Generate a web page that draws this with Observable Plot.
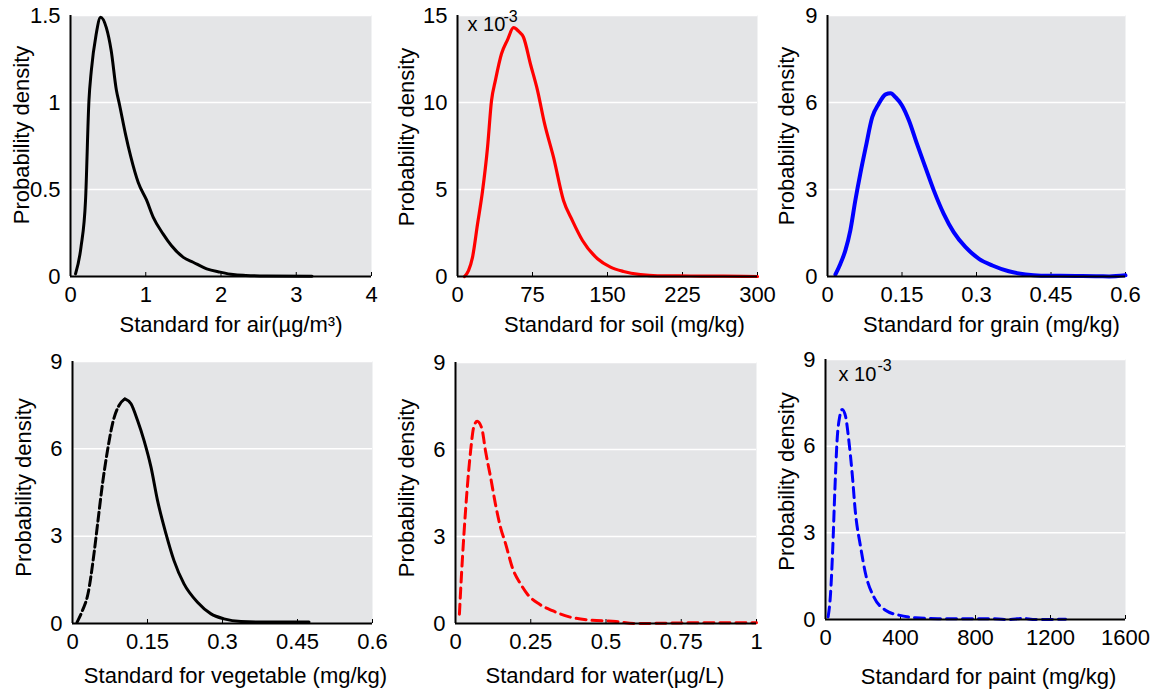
<!DOCTYPE html>
<html><head><meta charset="utf-8">
<script src="https://cdn.jsdelivr.net/npm/d3@7"></script>
<script src="https://cdn.jsdelivr.net/npm/@observablehq/plot@0.6"></script>
<style>
body{margin:0;background:#fff;}
#wrap{position:relative;width:1163px;height:693px;overflow:hidden;font-family:"Liberation Sans",Arial,sans-serif;}
.cell{position:absolute;}
.cell svg{overflow:visible;}
</style></head><body><div id="wrap"></div>
<script>
// ---- data ----
const airX = [0.067,0.14,0.2,0.245,0.276,0.34,0.40,0.476,0.54,0.61,0.65,0.73,0.80,0.90,1.01,1.10,1.23,1.34,1.50,1.63,1.81,1.99,2.16,2.33,2.6,3.21];
const airY = [0.015,0.17,0.44,1.01,1.18,1.39,1.49,1.43,1.30,1.07,0.99,0.82,0.69,0.54,0.44,0.34,0.245,0.178,0.11,0.082,0.044,0.025,0.011,0.006,0.003,0.002];

const soilX = [7,11,15,20,25,30,34,38,44,50,56,61,66,73,80,87,96,106,115,125,140,153,166,183,200,233,266,300];
const soilY = [0,0.34,1.1,3.0,4.9,7.4,10.1,11.3,12.8,13.6,14.3,14.1,13.75,12.2,10.7,8.8,6.86,4.37,3.2,2.07,1.02,0.54,0.29,0.11,0.04,0.03,0.02,0]; // x 10^-3

const grainX = [0.016,0.026,0.036,0.046,0.056,0.066,0.077,0.09,0.103,0.117,0.127,0.137,0.15,0.164,0.18,0.197,0.214,0.234,0.254,0.278,0.305,0.332,0.365,0.399,0.43,0.5,0.547,0.567,0.6];
const grainY = [0.07,0.44,0.9,1.59,2.62,3.54,4.46,5.49,5.95,6.28,6.32,6.18,5.9,5.38,4.58,3.77,2.97,2.16,1.53,1.01,0.61,0.38,0.18,0.07,0.03,0.02,0.01,0,0.04];

const vegX = [0.009,0.02,0.031,0.043,0.051,0.06,0.07,0.08,0.093,0.105,0.117,0.13,0.143,0.157,0.17,0.187,0.203,0.223,0.25,0.277,0.303,0.337,0.39,0.473];
const vegY = [0.04,0.45,1.02,2.4,3.54,4.8,5.94,6.86,7.49,7.72,7.55,6.98,6.29,5.37,4.23,3.08,2.16,1.36,0.73,0.33,0.16,0.07,0.05,0.05];

const waterX = [0.013,0.02,0.028,0.039,0.05,0.061,0.072,0.087,0.1,0.117,0.133,0.15,0.167,0.189,0.217,0.239,0.278,0.322,0.378,0.444,0.533,0.6,0.75,1.0];
const waterY = [0.32,1.7,3.07,4.67,5.93,6.79,6.97,6.74,5.93,5.02,4.1,3.3,2.73,1.92,1.35,1.01,0.67,0.44,0.23,0.12,0.07,0.0,0.02,0.03];

const paintX = [14,27,39,50,62,76,89,107,124,142,160,187,213,258,320,391,480,600,867,978,1049,1120,1280];
const paintY = [0.09,0.9,2.52,4.49,6.22,7.03,7.27,7.03,6.22,5.07,3.68,2.52,1.6,0.78,0.32,0.15,0.06,0.03,0.03,0,0.04,0,0.01]; // x 10^-3

const xTicksAir = [0,1,2,3,4];
const xTicksSoil = [0,75,150,225,300];
const xTicksGrain = [0,0.15,0.3,0.45,0.6];
const xTicksVeg = [0,0.15,0.3,0.45,0.6];
const xTicksWater = [0,0.25,0.5,0.75,1];
const xTicksPaint = [0,400,800,1200,1600];
const yTicksAir = [0,0.5,1,1.5];
const yTicksSoil = [0,5,10,15];
const yTicksNine = [0,3,6,9];

const xLabels = ["Standard for air(\u00b5g/m\u00b3)","Standard for soil (mg/kg)","Standard for grain (mg/kg)",
                 "Standard for vegetable (mg/kg)","Standard for water(\u00b5g/L)","Standard for paint (mg/kg)"];
const yLabel = "Probability density";
const multText = ["x 10", "-3"];

// ---- layout / style ----
const panels = [
  {frame:[70,15,371,276], xs:airX, ys:airY, xd:[0,4], yd:[0,1.5], xt:xTicksAir, yt:yTicksAir, color:"#000", sw:3, dash:null, lab:xLabels[0], xl:[10,55], yl:[-42,-11]},
  {frame:[457,15,757,276], xs:soilX, ys:soilY, xd:[0,300], yd:[0,15], xt:xTicksSoil, yt:yTicksSoil, color:"#ff0000", sw:3.2, dash:null, lab:xLabels[1], xl:[17,55], yl:[-44,-9], mult:[10,15,46,6]},
  {frame:[827,15,1125,276], xs:grainX, ys:grainY, xd:[0,0.6], yd:[0,9], xt:xTicksGrain, yt:yTicksNine, color:"#0000ff", sw:4, dash:null, lab:xLabels[2], xl:[15,55], yl:[-34,-10]},
  {frame:[72,361,372,623], xs:vegX, ys:vegY, xd:[0,0.6], yd:[0,9], xt:xTicksVeg, yt:yTicksNine, color:"#000", sw:3, dash:"split", lab:xLabels[3], xl:[13,59], yl:[-42,-5]},
  {frame:[455,362,756,623], xs:waterX, ys:waterY, xd:[0,1], yd:[0,9], xt:xTicksWater, yt:yTicksNine, color:"#ff0000", sw:3, dash:"10,6", lab:xLabels[4], xl:[-1,59], yl:[-42,-5]},
  {frame:[825,359,1125,619], xs:paintX, ys:paintY, xd:[0,1600], yd:[0,9], xt:xTicksPaint, yt:yTicksNine, color:"#0000ff", sw:3, dash:"10,6", lab:xLabels[5], xl:[13,64], yl:[-32,-8], mult:[13,21,52,11]}
];

const wrap = document.getElementById("wrap");
const mL = 70, mT = 15, mR = 40, mB = 80;

for (const p of panels) {
  const [fl, ft, fr, fb] = p.frame;
  const fw = fr - fl, fh = fb - ft;
  const data = p.xs.map((x, i) => ({x, y: p.ys[i]}));
  const lines = [];
  if (p.dash === "split") {
    let ip = 0;
    p.ys.forEach((v, i) => { if (v > p.ys[ip]) ip = i; });
    lines.push(Plot.line(data.slice(0, ip + 1), {x: "x", y: "y", stroke: p.color, strokeWidth: p.sw, strokeDasharray: "9,4", curve: "monotone-x"}));
    lines.push(Plot.line(data.slice(ip), {x: "x", y: "y", stroke: p.color, strokeWidth: p.sw, curve: "monotone-x"}));
  } else {
    lines.push(Plot.line(data, {x: "x", y: "y", stroke: p.color, strokeWidth: p.sw, strokeDasharray: p.dash, curve: "monotone-x"}));
  }
  const marks = [
    Plot.frame({fill: "#e4e5e7", stroke: "none"}),
    Plot.ruleY(p.yt.filter(d => d > 0), {y: d => d, stroke: "white", strokeWidth: 1.5}),
    Plot.tickX(p.xt.filter(d => d > p.xd[0]), {x: d => d, stroke: "black", strokeWidth: 1, insetTop: fh - 4}),
    ...lines,
    Plot.ruleX([p.xd[0]], {stroke: "black", strokeWidth: 2}),
    Plot.ruleY([0], {stroke: "black", strokeWidth: 2}),
    Plot.text([p.lab], {text: d => d, frameAnchor: "bottom", dx: p.xl[0], dy: p.xl[1], lineAnchor: "bottom", textAnchor: "middle", fontSize: 22, fill: "black"}),
    Plot.text([yLabel], {text: d => d, frameAnchor: "left", rotate: -90, dx: p.yl[0], dy: p.yl[1], lineAnchor: "bottom", textAnchor: "middle", fontSize: 22, fill: "black"})
  ];
  if (p.mult) {
    marks.push(Plot.text([multText[0]], {text: d => d, frameAnchor: "top-left", dx: p.mult[0], dy: p.mult[1], lineAnchor: "bottom", textAnchor: "start", fontSize: 20, fill: "black"}));
    marks.push(Plot.text([multText[1]], {text: d => d, frameAnchor: "top-left", dx: p.mult[2], dy: p.mult[3], lineAnchor: "bottom", textAnchor: "start", fontSize: 16, fill: "black"}));
  }
  const chart = Plot.plot({
    width: fw + mL + mR,
    height: fh + mT + mB,
    marginLeft: mL, marginTop: mT, marginRight: mR, marginBottom: mB,
    style: {background: "none", fontSize: "22px", fontFamily: "Liberation Sans, Arial, sans-serif", color: "black", overflow: "visible"},
    x: {domain: p.xd, ticks: p.xt, tickSize: 0, tickPadding: 10, tickFormat: d => String(d), label: null},
    y: {domain: p.yd, ticks: p.yt, tickSize: 0, tickPadding: 10, tickFormat: d => String(d), label: null},
    marks
  });
  const cell = document.createElement("div");
  cell.className = "cell";
  cell.style.left = (fl - mL) + "px";
  cell.style.top = (ft - mT) + "px";
  cell.style.width = (fw + mL + mR) + "px";
  cell.appendChild(chart);
  wrap.appendChild(cell);
}
</script></body></html>
